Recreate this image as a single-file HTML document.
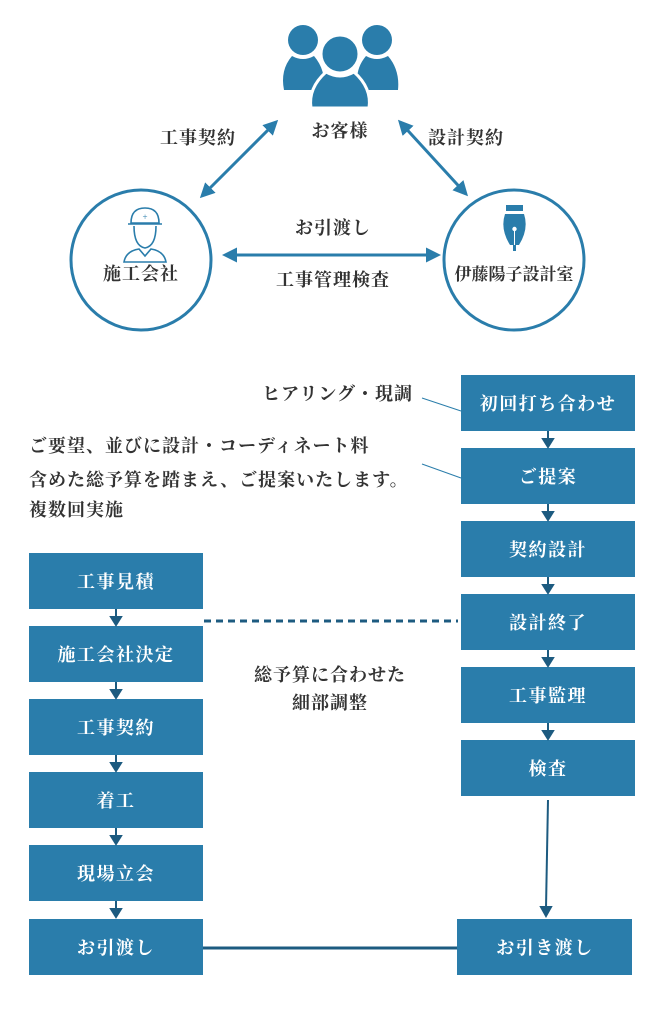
<!DOCTYPE html>
<html><head><meta charset="utf-8"><style>
html,body{margin:0;padding:0;background:#fff;}
svg{display:block;}
text{font-family:"Liberation Serif","Noto Serif CJK SC","Noto Serif CJK JP",serif;}
.lb{fill:#333;font-size:18px;font-weight:700;letter-spacing:1px;}
.bx{fill:#fff;font-size:18px;font-weight:700;letter-spacing:1.5px;}
</style></head><body>
<svg width="666" height="1024" viewBox="0 0 666 1024" xmlns="http://www.w3.org/2000/svg">
<defs>
<marker id="ah" viewBox="0 0 10 10" refX="8" refY="5" markerWidth="5" markerHeight="5" orient="auto-start-reverse"><path d="M0,0 L10,5 L0,10 z" fill="#2a7dab"/></marker>
</defs>
<!-- people icon -->
<g fill="#2a7dab">
<circle cx="303" cy="40" r="15"/>
<path d="M292,56 Q303,62 314,56 Q326,70 324,90 L284,90 Q280,70 292,56 z"/>
<circle cx="377" cy="40" r="15"/>
<path d="M366,56 Q377,62 388,56 Q400,70 398,90 L358,90 Q354,70 366,56 z"/>
<circle cx="340" cy="54" r="19" stroke="#fff" stroke-width="3"/>
<path d="M326,72 Q340,80 354,72 Q372,88 369,108 L311,108 Q308,88 326,72 z" stroke="#fff" stroke-width="3"/>
</g>
<text class="lb" x="340" y="137" text-anchor="middle">お客様</text>
<text class="lb" x="198" y="144" text-anchor="middle">工事契約</text>
<text class="lb" x="466" y="144" text-anchor="middle">設計契約</text>
<!-- circles -->
<circle cx="141" cy="260" r="70" fill="none" stroke="#2a7dab" stroke-width="3"/>
<circle cx="514" cy="260" r="70" fill="none" stroke="#2a7dab" stroke-width="3"/>
<!-- arrows -->
<line x1="202" y1="196" x2="276" y2="122" stroke="#2a7dab" stroke-width="3" marker-start="url(#ah)" marker-end="url(#ah)"/>
<line x1="400" y1="122" x2="466" y2="194" stroke="#2a7dab" stroke-width="3" marker-start="url(#ah)" marker-end="url(#ah)"/>
<line x1="225" y1="255" x2="438" y2="255" stroke="#2a7dab" stroke-width="3" marker-start="url(#ah)" marker-end="url(#ah)"/>
<text class="lb" x="333" y="234" text-anchor="middle">お引渡し</text>
<text class="lb" x="333" y="286" text-anchor="middle">工事管理検査</text>
<!-- worker icon -->
<g fill="none" stroke="#2a7dab" stroke-width="1.6">
<path d="M131,223 Q131,208 145,208 Q159,208 159,223 z"/>
<line x1="128" y1="224" x2="162" y2="224"/>
<path d="M134,226 Q134,246 145,248 Q156,246 156,226"/>
<path d="M124,262 Q126,251 139,249 L145,256 L151,249 Q164,251 166,262 z"/>
</g>
<text x="145" y="220" fill="#2a7dab" font-size="9" text-anchor="middle">+</text>
<text class="lb" x="141" y="280" text-anchor="middle">施工会社</text>
<!-- pen icon -->
<g fill="#2a7dab">
<rect x="506" y="205" width="17" height="6"/>
<path d="M505,214 L524,214 Q529,229 519,245 L510,245 Q500,229 505,214 z"/>
<rect x="513" y="245" width="3" height="6"/>
</g>
<circle cx="514.5" cy="229" r="2.2" fill="#fff"/>
<line x1="514.5" y1="230" x2="514.5" y2="245" stroke="#fff" stroke-width="1"/>
<text class="lb" x="514" y="280" text-anchor="middle" style="font-size:17px;letter-spacing:0">伊藤陽子設計室</text>
<!-- flow labels -->
<text class="lb" x="413" y="400" text-anchor="end">ヒアリング・現調</text>
<line x1="422" y1="398" x2="461" y2="411" stroke="#2a7dab" stroke-width="1"/>
<text class="lb" x="29" y="452">ご要望、並びに設計・コーディネート料</text>
<text class="lb" x="29" y="486">含めた総予算を踏まえ、ご提案いたします。</text>
<text class="lb" x="29" y="516">複数回実施</text>
<line x1="422" y1="464" x2="461" y2="478" stroke="#2a7dab" stroke-width="1"/>
<text class="lb" x="330" y="681" text-anchor="middle">総予算に合わせた</text>
<text class="lb" x="330" y="709" text-anchor="middle">細部調整</text>
<!-- boxes -->
<g fill="#2a7dab">
<rect x="461" y="375" width="174" height="56"/>
<rect x="461" y="448" width="174" height="56"/>
<rect x="461" y="521" width="174" height="56"/>
<rect x="461" y="594" width="174" height="56"/>
<rect x="461" y="667" width="174" height="56"/>
<rect x="461" y="740" width="174" height="56"/>
<rect x="457" y="919" width="175" height="56"/>
<rect x="29" y="553" width="174" height="56"/>
<rect x="29" y="626" width="174" height="56"/>
<rect x="29" y="699" width="174" height="56"/>
<rect x="29" y="772" width="174" height="56"/>
<rect x="29" y="845" width="174" height="56"/>
<rect x="29" y="919" width="174" height="56"/>
</g>
<g fill="#1d5b80" stroke="#1d5b80" stroke-width="2">
<line x1="548" y1="431" x2="548" y2="440"/><path d="M543,439 L553,439 L548,447 z"/>
<line x1="548" y1="504" x2="548" y2="513"/><path d="M543,512 L553,512 L548,520 z"/>
<line x1="548" y1="577" x2="548" y2="586"/><path d="M543,585 L553,585 L548,593 z"/>
<line x1="548" y1="650" x2="548" y2="659"/><path d="M543,658 L553,658 L548,666 z"/>
<line x1="548" y1="723" x2="548" y2="732"/><path d="M543,731 L553,731 L548,739 z"/>
<line x1="116" y1="609" x2="116" y2="618"/><path d="M111,617 L121,617 L116,625 z"/>
<line x1="116" y1="682" x2="116" y2="691"/><path d="M111,690 L121,690 L116,698 z"/>
<line x1="116" y1="755" x2="116" y2="764"/><path d="M111,763 L121,763 L116,771 z"/>
<line x1="116" y1="828" x2="116" y2="837"/><path d="M111,836 L121,836 L116,844 z"/>
<line x1="116" y1="901" x2="116" y2="910"/><path d="M111,909 L121,909 L116,917 z"/>
<line x1="548" y1="800" x2="546" y2="908"/><path d="M541,907 L551,907 L546,916 z"/>
</g>
<line x1="204" y1="621" x2="458" y2="621" stroke="#1d5b80" stroke-width="3" stroke-dasharray="7,5"/>
<line x1="203" y1="948" x2="457" y2="948" stroke="#1d5b80" stroke-width="3"/>
<g class="bx" text-anchor="middle">
<text x="548" y="410">初回打ち合わせ</text>
<text x="548" y="483">ご提案</text>
<text x="548" y="556">契約設計</text>
<text x="548" y="629">設計終了</text>
<text x="548" y="702">工事監理</text>
<text x="548" y="775">検査</text>
<text x="545" y="954">お引き渡し</text>
<text x="116" y="588">工事見積</text>
<text x="116" y="661">施工会社決定</text>
<text x="116" y="734">工事契約</text>
<text x="116" y="807">着工</text>
<text x="116" y="880">現場立会</text>
<text x="116" y="954">お引渡し</text>
</g>
</svg>
</body></html>
